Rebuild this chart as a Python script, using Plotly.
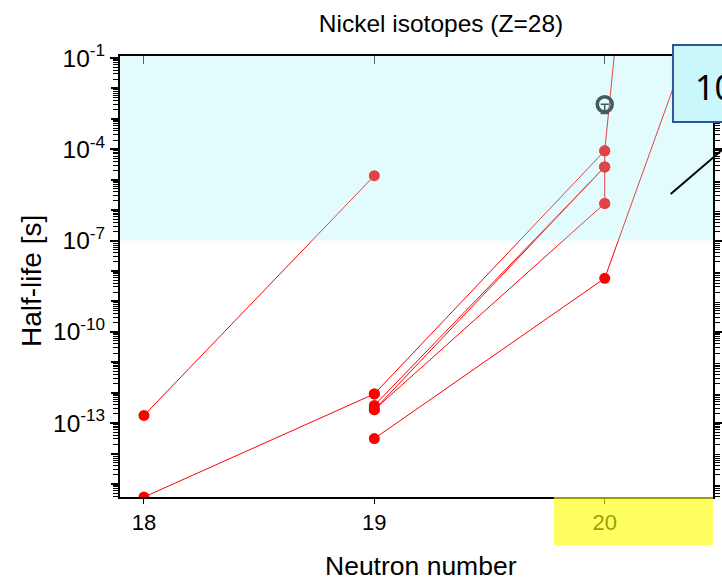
import plotly.graph_objects as go

# ---- data ----
# chains of isotopes/isomers connected by lines: neutron number vs half-life [s]
chain_a_n = [18, 19]
chain_a_t = [1.78e-13, 1.35e-5]
chain_b_n = [18, 19]
chain_b_t = [3.7e-16, 9.1e-13]
chain_c_n = [19, 20]
chain_c_t = [9.1e-13, 8.9e-5]
chain_d_n = [19, 20]
chain_d_t = [3.8e-13, 2.63e-5]
chain_e_n = [19, 20]
chain_e_t = [2.75e-13, 2.63e-5]
chain_f_n = [19, 20]
chain_f_t = [2.75e-13, 1.66e-6]
chain_g_n = [19, 20, 21]
chain_g_t = [3.1e-14, 5.75e-9, 6.5e12]
chain_h_n = [20, 20, 20, 20.1]
chain_h_t = [1.66e-6, 2.63e-5, 8.9e-5, 3.3e3]
# measured point with error bar (open circle)
meas_n = [20]
meas_t = [3.0e-3]
meas_err_minus = [1.5e-3]

x_ticks = [18, 19, 20]
y_label_exps = [-1, -4, -7, -10, -13]
x_range = [17.896, 20.47]
y_range_log = [-15.43, -0.934]
shade_min = 1e-7          # cyan band lower edge
yellow_x0 = 19.78          # yellow box start (neutron number)

RED = "#ff0000"
chains = [
    (chain_a_n, chain_a_t), (chain_b_n, chain_b_t), (chain_c_n, chain_c_t),
    (chain_d_n, chain_d_t), (chain_e_n, chain_e_t), (chain_f_n, chain_f_t),
    (chain_g_n, chain_g_t), (chain_h_n, chain_h_t),
]

fig = go.Figure()
for n, t in chains:
    fig.add_trace(go.Scatter(
        x=n, y=t, mode="lines+markers",
        line=dict(color=RED, width=1),
        marker=dict(color=RED, size=11, line=dict(width=0)),
        showlegend=False, hoverinfo="x+y",
    ))

fig.add_trace(go.Scatter(
    x=meas_n, y=meas_t, mode="markers",
    marker=dict(symbol="circle-open", size=15, color="#222", line=dict(width=3.5, color="#222")),
    error_y=dict(type="data", symmetric=False, array=[0], arrayminus=meas_err_minus,
                 color="#222", thickness=1.5, width=4),
    showlegend=False,
))

# dummy traces so the top axis and the extra decade-tick axis are drawn
fig.add_trace(go.Scatter(x=[x_ticks[0], x_ticks[-1]], y=[None, None], xaxis="x2",
                         mode="lines", showlegend=False, hoverinfo="skip"))
fig.add_trace(go.Scatter(x=[x_ticks[0], x_ticks[-1]], y=[None, None], yaxis="y2",
                         mode="lines", showlegend=False, hoverinfo="skip"))

other_decades = [10.0 ** k for k in range(-15, 0) if k not in y_label_exps]
label_vals = [10.0 ** k for k in y_label_exps]
label_text = ["10<sup>%d</sup>" % k for k in y_label_exps]
minor_vals = [m * 10.0 ** k for k in range(-16, 0) for m in range(2, 10)]

fig.update_layout(
    width=722, height=581,
    margin=dict(l=120, r=9, t=56, b=84, autoexpand=False),
    paper_bgcolor="white", plot_bgcolor="white",
    font=dict(family="Liberation Sans, Arial, sans-serif", color="black"),
    title=dict(text="Nickel isotopes (Z=28)", x=(441 - 120) / 593, xref="paper", xanchor="center",
               y=1 - 23 / 581, yanchor="middle", font=dict(size=24.5)),
    xaxis=dict(range=x_range, tickvals=x_ticks, ticks="outside", ticklen=5, tickwidth=1,
               tickcolor="black", showline=True, linecolor="black", linewidth=2,
               mirror=False, showgrid=False, zeroline=False, tickfont=dict(size=22)),
    xaxis2=dict(range=x_range, overlaying="x", side="top", tickvals=x_ticks, ticks="inside",
                ticklen=8, tickwidth=1, tickcolor="#333", showline=True, linecolor="black",
                linewidth=2, showticklabels=False, showgrid=False, zeroline=False),
    yaxis=dict(type="log", range=y_range_log, tickvals=label_vals, ticktext=label_text,
               ticks="outside", ticklen=8, tickwidth=1.5, tickcolor="black",
               minor=dict(tickvals=minor_vals, ticks="outside", ticklen=5, tickwidth=1,
                          tickcolor="black", showgrid=False),
               showline=True, linecolor="black", linewidth=2, mirror="ticks",
               showgrid=False, zeroline=False, tickfont=dict(size=24.5)),
    yaxis2=dict(type="log", range=y_range_log, overlaying="y", side="left",
                tickmode="array", tickvals=[], showticklabels=False, ticks="",
                minor=dict(tickmode="array", tickvals=other_decades, ticks="outside", ticklen=8,
                           tickwidth=1.5, tickcolor="black", showgrid=False),
                showline=False, mirror="ticks", showgrid=False, zeroline=False),
    shapes=[
        dict(type="rect", xref="paper", yref="y", x0=0, x1=1, y0=shade_min,
             y1=10 ** y_range_log[1], layer="above", line=dict(width=0),
             fillcolor="rgba(150,240,245,0.28)"),
        dict(type="rect", xref="x", yref="paper", x0=yellow_x0, x1=x_range[1], y0=-0.109, y1=0,
             layer="above", line=dict(width=0), fillcolor="rgba(255,255,0,0.62)"),
        dict(type="rect", xref="paper", yref="paper", x0=0.9325, x1=1.06, y0=0.8503, y1=1.0249,
             layer="above", line=dict(color="#2e54a0", width=2), fillcolor="#c9f7fc"),
        dict(type="line", xref="paper", yref="paper", x0=0.9287, y0=0.687, x1=1.0287, y1=0.8025,
             layer="above", line=dict(color="black", width=2)),
    ],
    annotations=[
        dict(text="10", xref="paper", yref="paper", x=0.9663, y=0.9297, xanchor="left",
             yanchor="middle", showarrow=False, font=dict(size=34, family="Noto Sans, sans-serif")),
        dict(text="Neutron number", xref="paper", yref="paper", x=(421 - 120) / 593,
             y=-(566 - 497) / 441, xanchor="center", yanchor="middle", showarrow=False,
             font=dict(size=26.5)),
        dict(text="Half-life [s]", xref="paper", yref="paper", x=-(120 - 31) / 593,
             y=(497 - 281) / 441, xanchor="center", yanchor="middle", textangle=-90,
             showarrow=False, font=dict(size=28)),
    ],
)

fig.write_html("out.html")
